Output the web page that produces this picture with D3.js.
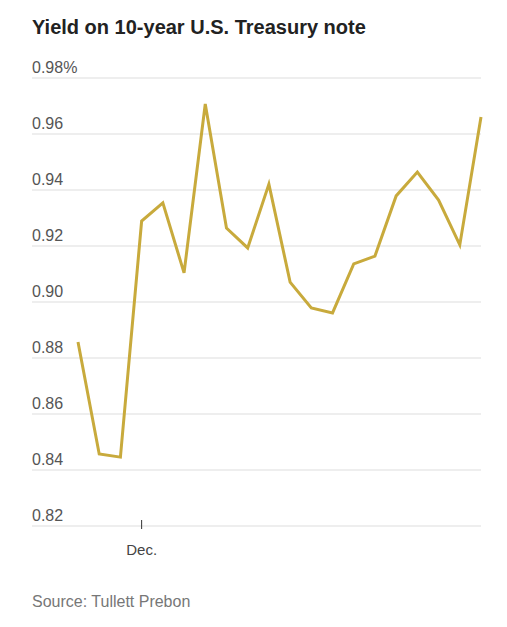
<!DOCTYPE html>
<html><head><meta charset="utf-8">
<script src="https://cdn.jsdelivr.net/npm/d3@7"></script>
<style>body{margin:0;background:#fff;font-family:"Liberation Sans",Arial,sans-serif;}</style>
</head><body>
<svg id="c" width="507" height="627"></svg>
<script>
// Trading days (late Nov – Dec)
const days = ["Nov 25","Nov 26","Nov 27","Dec 1","Dec 2","Dec 3","Dec 4","Dec 5","Dec 8","Dec 9","Dec 10","Dec 11","Dec 12","Dec 15","Dec 16","Dec 17","Dec 18","Dec 19","Dec 22","Dec 23"];
const yields = [0.8857,0.8457,0.8446,0.9289,0.9354,0.9104,0.9707,0.9264,0.9193,0.9421,0.9071,0.8979,0.8961,0.9136,0.9164,0.9379,0.9464,0.9364,0.9204,0.9661];
const yTicks = [0.82,0.84,0.86,0.88,0.90,0.92,0.94,0.96,0.98];

const svg = d3.select("#c");
const x = d3.scalePoint().domain(days).range([78, 481]);
const y = d3.scaleLinear().domain([0.82, 0.98]).range([526, 78]);

svg.append("text").attr("x", 32).attr("y", 34)
  .style("font-size", "20px").style("font-weight", "bold").attr("fill", "#222")
  .text("Yield on 10-year U.S. Treasury note");

// Gridlines and labels
yTicks.forEach((t, i) => {
  svg.append("line").attr("x1", 32).attr("x2", 481)
    .attr("y1", y(t)).attr("y2", y(t))
    .attr("stroke", "#ddd").attr("stroke-width", 1);
  svg.append("text").attr("x", 32).attr("y", y(t) - 5)
    .style("font-size", "16px").attr("fill", "#555")
    .text(d3.format(".2f")(t) + (i === yTicks.length - 1 ? "%" : ""));
});

// Dec. tick
svg.append("line").attr("x1", x("Dec 1")).attr("x2", x("Dec 1"))
  .attr("y1", 520).attr("y2", 529).attr("stroke", "#333");
svg.append("text").attr("x", x("Dec 1")).attr("y", 555)
  .attr("text-anchor", "middle").style("font-size", "15px").attr("fill", "#444").text("Dec.");

svg.append("path").datum(days)
  .attr("fill", "none").attr("stroke", "#c8aa3c").attr("stroke-width", 3)
  .attr("stroke-linejoin", "miter")
  .attr("d", d3.line().x(d => x(d)).y((d, i) => y(yields[i])));

svg.append("text").attr("x", 32).attr("y", 607)
  .style("font-size", "16px").attr("fill", "#777").text("Source: Tullett Prebon");
</script>
</body></html>
